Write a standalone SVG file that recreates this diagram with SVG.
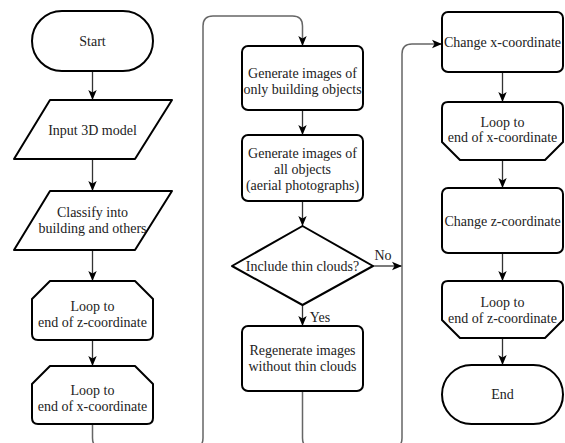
<svg xmlns="http://www.w3.org/2000/svg" width="565" height="443" viewBox="0 0 565 443" font-family="Liberation Serif, Times New Roman, DejaVu Serif, serif">
<defs>
<marker id="ah" markerUnits="userSpaceOnUse" markerWidth="10" markerHeight="10" viewBox="0 0 10 10" refX="10" refY="5" orient="auto">
<path d="M0,0.8 L10,5 L0,9.2 L2.5,5 Z" fill="#000"/>
</marker>
<style>
.n{fill:#fff;stroke:#000;stroke-width:2;stroke-linejoin:round}
.t{font-size:14px;fill:#222;text-anchor:middle}
.c{fill:none;stroke:#333;stroke-width:1.3}
.l{fill:none;stroke:#666;stroke-width:1.5}
</style>
</defs>
<rect width="565" height="443" fill="#fff"/>
<g id="connectors">
<path class="c" d="M92.5,71 V100" marker-end="url(#ah)"/>
<path class="c" d="M92.5,159 V191" marker-end="url(#ah)"/>
<path class="c" d="M92.5,250 V281" marker-end="url(#ah)"/>
<path class="c" d="M92.5,340 V366" marker-end="url(#ah)"/>
<path class="l" d="M92.5,424 V438 Q92.5,448 102.5,448 H193 Q203,448 203,438 V26 Q203,16 213,16 H292.5 Q302.5,16 302.5,26 V46" marker-end="url(#ah)"/>
<path class="c" d="M302.5,110 V135" marker-end="url(#ah)"/>
<path class="c" d="M302.5,201 V226" marker-end="url(#ah)"/>
<path class="c" d="M302.5,305 V326" marker-end="url(#ah)"/>
<path class="c" d="M373,266 H402" marker-end="url(#ah)"/>
<path class="l" d="M302.5,391 V438 Q302.5,448 312.5,448 H392 Q402,448 402,438 V54 Q402,44 412,44 H442" marker-end="url(#ah)"/>
<path class="c" d="M502.5,72 V102" marker-end="url(#ah)"/>
<path class="c" d="M502.5,160 V188" marker-end="url(#ah)"/>
<path class="c" d="M502.5,253 V281" marker-end="url(#ah)"/>
<path class="c" d="M502.5,338 V365" marker-end="url(#ah)"/>
<text class="t" x="383" y="260" style="font-family:'Liberation Serif',serif">No</text>
<text class="t" x="320" y="322" style="font-family:'Liberation Serif',serif">Yes</text>
</g>
<g id="start">
<rect class="n" x="32" y="11" width="121" height="60" rx="30"/>
<text class="t" x="92.5" y="46">Start</text>
</g>
<g id="input">
<path class="n" d="M50,100 H172 L135,159 H14 Z"/>
<text class="t" x="92.5" y="135">Input 3D model</text>
</g>
<g id="classify">
<path class="n" d="M50,191 H172 L135,250 H14 Z"/>
<text class="t" x="92.5" y="217">Classify into</text>
<text class="t" x="92.5" y="233">building and others</text>
</g>
<g id="loopz1">
<path class="n" d="M50,281 H135 L153,299 V334 Q153,340 147,340 H38 Q32,340 32,334 V299 Z"/>
<text class="t" x="92.5" y="311">Loop to</text>
<text class="t" x="92.5" y="327">end of z-coordinate</text>
</g>
<g id="loopx1">
<path class="n" d="M50,366 H135 L153,384 V418 Q153,424 147,424 H38 Q32,424 32,418 V384 Z"/>
<text class="t" x="92.5" y="395">Loop to</text>
<text class="t" x="92.5" y="411">end of x-coordinate</text>
</g>
<g id="gen1">
<rect class="n" x="242" y="46" width="121" height="64" rx="6"/>
<text class="t" x="302.5" y="78">Generate images of</text>
<text class="t" x="302.5" y="94">only building objects</text>
</g>
<g id="gen2">
<rect class="n" x="242" y="135" width="121" height="66" rx="6"/>
<text class="t" x="302.5" y="158">Generate images of</text>
<text class="t" x="302.5" y="174">all objects</text>
<text class="t" x="302.5" y="190">(aerial photographs)</text>
</g>
<g id="decision">
<path class="n" d="M302.5,226 L373,266 L302.5,305 L232,266 Z"/>
<text class="t" x="302.5" y="271">Include thin clouds?</text>
</g>
<g id="regen">
<rect class="n" x="242" y="326" width="121" height="65" rx="6"/>
<text class="t" x="302.5" y="355">Regenerate images</text>
<text class="t" x="302.5" y="371">without thin clouds</text>
</g>
<g id="changex">
<rect class="n" x="442" y="12" width="121" height="60" rx="6"/>
<text class="t" x="502.5" y="47">Change x-coordinate</text>
</g>
<g id="loopx2">
<path class="n" d="M448,102 H557 Q563,102 563,108 V142 L545,160 H460 L442,142 V108 Q442,102 448,102 Z"/>
<text class="t" x="502.5" y="127">Loop to</text>
<text class="t" x="502.5" y="142">end of x-coordinate</text>
</g>
<g id="changez">
<rect class="n" x="442" y="188" width="121" height="65" rx="6"/>
<text class="t" x="502.5" y="226">Change z-coordinate</text>
</g>
<g id="loopz2">
<path class="n" d="M448,281 H557 Q563,281 563,287 V320 L545,338 H460 L442,320 V287 Q442,281 448,281 Z"/>
<text class="t" x="502.5" y="307">Loop to</text>
<text class="t" x="502.5" y="323">end of z-coordinate</text>
</g>
<g id="end">
<rect class="n" x="442" y="365" width="121" height="59" rx="29.5"/>
<text class="t" x="502.5" y="399">End</text>
</g>
</svg>
